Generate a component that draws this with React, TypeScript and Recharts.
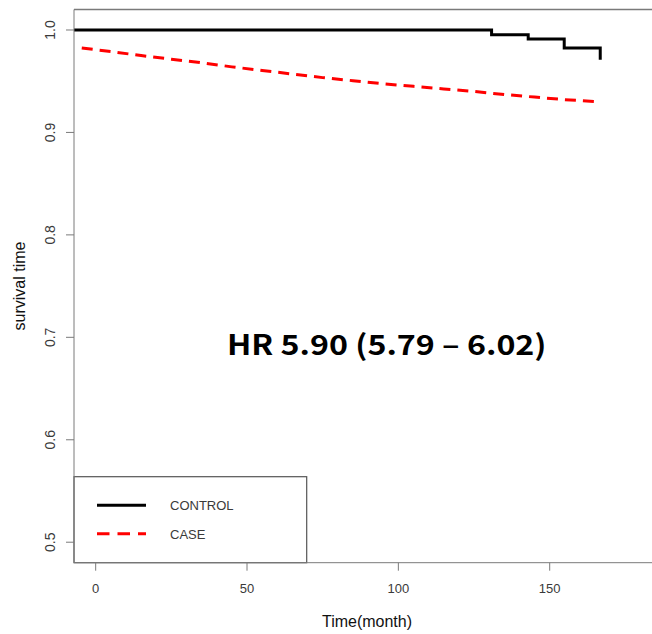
import React from "react";
import { LineChart, Line, XAxis, YAxis, ReferenceLine, Customized } from "recharts";

const controlTime = [-7.16, 130.8, 142.9, 154.8, 166.7];
const controlSurv = [1.0, 0.9954, 0.9912, 0.9824, 0.971];

const caseTime = [-4.6, 5, 15, 25, 35, 45, 55, 65, 75, 85, 95, 105, 115, 125, 135, 145, 155, 166];
const caseSurv = [0.9824, 0.979, 0.975, 0.9715, 0.968, 0.964, 0.9605, 0.957, 0.9535, 0.9505, 0.9475, 0.945, 0.9425, 0.94, 0.937, 0.9345, 0.932, 0.93];

const xTicks = [0, 50, 100, 150];
const yTicks = [0.5, 0.6, 0.7, 0.8, 0.9, 1.0];
const seriesNames = ["CONTROL", "CASE"];
const seriesColors = ["#000000", "#ff0000"];
const hrText = "HR 5.90 (5.79 \u2013 6.02)";
const xTitle = "Time(month)";
const yTitle = "survival time";

const controlData = controlTime.map((t, i) => ({ t, s: controlSurv[i] }));
const caseData = caseTime.map((t, i) => ({ t, s: caseSurv[i] }));

const FONT = "'Liberation Sans', Arial, sans-serif";
const AXIS = "#7a7a7a";
const TXT = "#3a3a3a";

const YTick = (props: any) => {
  const { y, payload } = props;
  const x = 50;
  return (
    <text x={x} y={y} transform={`rotate(-90, ${x}, ${y})`} textAnchor="middle" dominantBaseline="central"
      fontFamily={FONT} fontSize={14} fill={TXT}>
      {payload.value.toFixed(1)}
    </text>
  );
};

const XTick = (props: any) => {
  const { x, payload } = props;
  return (
    <text x={x} y={593} textAnchor="middle" fontFamily={FONT} fontSize={13} fill={TXT}>
      {payload.value}
    </text>
  );
};

const Annotations = () => (
  <g>
    <g transform="translate(74, 476.7)">
      <rect x={0} y={0} width={232.7} height={86} fill="white" stroke="#555" strokeWidth={1.2} />
      {seriesNames.map((name, i) => {
        const yy = 28.6 + i * 28.4;
        return (
          <g key={name}>
            <line x1={23} x2={72} y1={yy} y2={yy} stroke={seriesColors[i]} strokeWidth={3}
              strokeDasharray={i === 1 ? "12.5 8" : undefined} />
            <text x={96} y={yy + 5} fontFamily={FONT} fontSize={13} fill={TXT}>{name}</text>
          </g>
        );
      })}
    </g>
    <text transform="translate(386.7, 355) scale(1.15, 1)" x={0} y={0} textAnchor="middle"
      fontFamily="'Noto Sans CJK KR', 'Noto Sans', sans-serif"
      fontWeight="bold" fontSize={28} fill="#000">{hrText}</text>
    <text x={367} y={627} textAnchor="middle" fontFamily={FONT} fontSize={16} fill="#111">{xTitle}</text>
    <text x={19} y={286} transform="rotate(-90, 19, 286)" textAnchor="middle" dominantBaseline="central"
      fontFamily={FONT} fontSize={16} fill="#111">{yTitle}</text>
  </g>
);

export default function App() {
  return (
    <div style={{ position: "absolute", left: 0, top: 0, background: "white" }}>
      <LineChart width={652} height={634} margin={{ top: 9.5, right: 0, bottom: 0, left: 0 }}>
        <XAxis type="number" dataKey="t" domain={[-7.16, 183.8]} ticks={xTicks} allowDataOverflow
          height={71.3} tickSize={8} tickLine={{ stroke: AXIS }} axisLine={{ stroke: AXIS }} tick={<XTick />} />
        <YAxis type="number" domain={[0.48, 1.02]} ticks={yTicks} allowDataOverflow width={74}
          tickSize={8} tickLine={{ stroke: AXIS }} axisLine={{ stroke: AXIS }} tick={<YTick />} />
        <ReferenceLine y={1.02} stroke={AXIS} strokeWidth={1.5} />
        <Line data={controlData} dataKey="s" name={seriesNames[0]} type="stepAfter" stroke={seriesColors[0]}
          strokeWidth={3} dot={false} isAnimationActive={false} />
        <Line data={caseData} dataKey="s" name={seriesNames[1]} type="linear" stroke={seriesColors[1]}
          strokeWidth={3} strokeDasharray="11 7" dot={false} isAnimationActive={false} />
        <Customized component={Annotations} />
      </LineChart>
    </div>
  );
}
